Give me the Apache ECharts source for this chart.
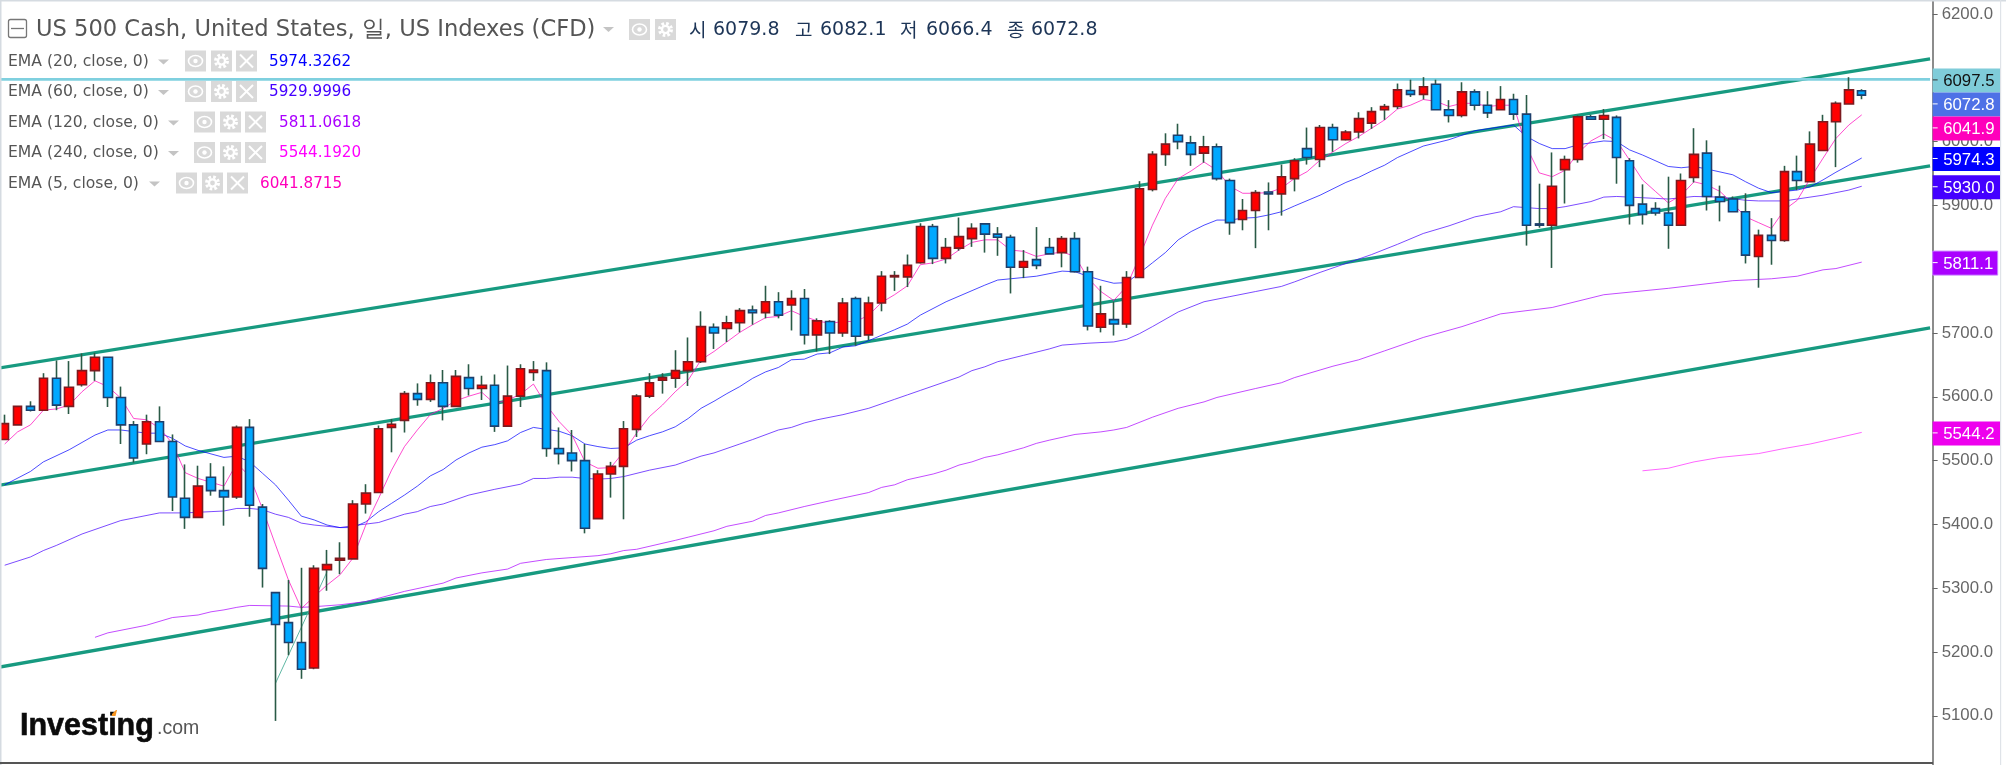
<!DOCTYPE html>
<html>
<head>
<meta charset="utf-8">
<style>html,body{margin:0;padding:0;background:#fff}#chart{width:2006px;height:765px}</style>
<script src="https://cdn.jsdelivr.net/npm/echarts@6/dist/echarts.min.js"></script>
</head>
<body>
<div id="chart"></div>
<script>
// Daily OHLC of the US 500 cash index
const opens = [5533,5556,5585,5579,5629,5585,5619,5641,5662,5599,5556,5526,5561,5530,5441,5411,5474,5453,5443,5552,5427,5293,5246,5215,5175,5329,5344,5346,5432,5450,5552,5563,5605,5596,5622,5585,5630,5613,5618,5554,5601,5638,5641,5519,5512,5500,5409,5479,5491,5549,5601,5626,5629,5641,5655,5709,5707,5716,5736,5732,5749,5744,5754,5697,5718,5700,5754,5697,5747,5788,5788,5810,5867,5817,5833,5848,5871,5855,5850,5803,5815,5834,5826,5848,5796,5709,5721,5714,5787,5925,5980,6010,5998,5982,5992,5939,5878,5892,5921,5918,5942,5989,5972,6022,6003,6015,6029,6050,6055,6080,6074,6090,6050,6041,6078,6057,6050,6066,6043,5871,5869,5956,5972,6039,6035,6038,5970,5902,5895,5888,5869,5944,5982,5913,5910,5890,5820,5853,5845,5953,5937,5986,6031,6059,6079.8];
const highs = [5572,5585,5593,5637,5657,5656,5668,5669,5662,5616,5562,5572,5585,5541,5494,5492,5496,5491,5555,5565,5432,5293,5313,5332,5336,5360,5372,5438,5463,5555,5565,5609,5621,5635,5642,5642,5651,5633,5635,5649,5651,5656,5654,5552,5548,5526,5485,5498,5562,5604,5637,5637,5673,5693,5734,5715,5727,5739,5743,5774,5764,5767,5769,5723,5720,5755,5757,5757,5797,5797,5823,5872,5871,5849,5881,5872,5871,5866,5854,5830,5866,5849,5852,5858,5804,5774,5749,5797,5938,5985,6013,6028,6009,6009,5997,5942,5910,5924,5936,5964,5974,6022,6026,6028,6018,6046,6054,6059,6091,6097,6101,6097,6065,6093,6082,6079,6087,6075,6073,5934,5983,5978,6041,6042,6051,6041,5974,5933,5905,5945,5950,6021,6002,5931,5914,5919,5862,5880,5962,5978,6016,6042,6063,6101,6082.1];
const lows = [5533,5556,5577,5579,5579,5573,5616,5625,5584,5526,5497,5510,5530,5421,5393,5411,5445,5398,5440,5412,5301,5092,5195,5158,5173,5296,5322,5346,5417,5450,5513,5544,5586,5592,5563,5585,5602,5595,5545,5554,5584,5625,5506,5494,5483,5386,5409,5442,5408,5537,5598,5605,5614,5617,5653,5675,5686,5701,5713,5723,5723,5704,5682,5671,5667,5694,5680,5689,5734,5766,5772,5809,5808,5809,5829,5835,5826,5821,5762,5786,5800,5824,5803,5795,5704,5701,5696,5708,5787,5922,5962,5988,5962,5967,5939,5854,5861,5833,5861,5884,5922,5964,5960,5984,6002,6005,6020,6034,6051,6070,6066,6050,6030,6038,6049,6037,6050,6034,5837,5865,5802,5903,5967,6035,6004,5934,5870,5870,5884,5832,5869,5936,5892,5875,5890,5809,5771,5807,5843,5924,5937,5986,5960,6059,6066.4];
const closes = [5558,5585,5579,5629,5587,5615,5641,5662,5599,5556,5504,5561,5530,5443,5411,5460,5453,5443,5552,5430,5331,5243,5215,5173,5331,5337,5347,5432,5449,5550,5557,5605,5596,5622,5585,5632,5613,5618,5554,5601,5644,5642,5519,5511,5500,5394,5479,5491,5550,5601,5622,5630,5641,5655,5710,5700,5716,5735,5732,5749,5728,5754,5697,5719,5700,5747,5695,5747,5789,5790,5806,5867,5817,5834,5851,5864,5855,5850,5803,5812,5806,5824,5848,5796,5711,5730,5714,5787,5926,5980,5996,6000,5980,5992,5942,5873,5892,5920,5918,5945,5970,5975,6022,6003,6015,6036,6047,6055,6081,6074,6086,6050,6041,6078,6057,6045,6066,6043,5869,5869,5930,5972,6039,6035,6041,5975,5900,5886,5888,5869,5939,5980,5914,5906,5890,5822,5853,5845,5953,5939,5996,6031,6060,6081,6072.8];

// Moving averages as [session index, value]
const ema5Values = [5526,5545,5556,5579,5581,5587,5608,5625,5616,5598,5566,5564,5551,5527,5481,5472,5466,5460,5496,5475,5424,5368,5313,5268,5287,5305,5321,5347,5399,5441,5485,5522,5548,5572,5582,5594,5601,5607,5589,5595,5604,5620,5587,5561,5540,5498,5488,5489,5514,5543,5569,5587,5608,5626,5658,5671,5686,5701,5713,5724,5726,5735,5726,5719,5715,5718,5718,5728,5748,5760,5774,5807,5810,5816,5830,5842,5846,5846,5830,5828,5820,5824,5827,5820,5786,5765,5751,5773,5820,5869,5911,5942,5954,5968,5955,5930,5919,5919,5920,5927,5942,5953,5971,5984,5997,6008,6021,6034,6051,6057,6066,6063,6055,6060,6060,6055,6057,6057,5992,5951,5945,5955,5982,6001,6012,6001,5971,5940,5922,5904,5916,5937,5932,5922,5903,5882,5873,5864,5893,5908,5942,5974,6005,6026,6041.9];
const ema20Points = [[0,5462],[2,5483],[3,5498],[5,5517],[7,5540],[8,5548],[9,5548],[11,5543],[12,5543],[13,5535],[14,5523],[15,5516],[17,5505],[18,5507],[19,5498],[20,5480],[21,5462],[22,5438],[23,5413],[24,5407],[25,5399],[26,5395],[27,5395],[28,5404],[29,5420],[30,5433],[31,5446],[32,5460],[33,5476],[34,5486],[35,5501],[36,5512],[37,5521],[38,5525],[39,5531],[40,5544],[41,5552],[42,5549],[43,5546],[44,5539],[45,5526],[46,5522],[47,5519],[48,5520],[49,5532],[50,5539],[51,5545],[52,5553],[53,5566],[54,5582],[55,5593],[56,5605],[57,5616],[58,5629],[59,5639],[60,5646],[61,5658],[62,5659],[63,5667],[64,5669],[65,5678],[66,5680],[67,5688],[69,5705],[70,5714],[71,5728],[73,5749],[76,5775],[77,5783],[78,5785],[80,5789],[82,5797],[83,5796],[84,5789],[85,5783],[86,5778],[87,5779],[88,5794],[89,5810],[90,5826],[91,5846],[92,5859],[93,5869],[94,5877],[95,5877],[96,5880],[97,5881],[98,5885],[99,5890],[100,5899],[102,5916],[103,5926],[104,5936],[105,5944],[106,5954],[107,5963],[108,5975],[110,5993],[112,6003],[114,6017],[117,6026],[118,6008],[119,5997],[120,5989],[121,5989],[122,5995],[124,6001],[125,6000],[126,5987],[127,5979],[129,5961],[130,5959],[131,5961],[132,5957],[134,5948],[135,5937],[136,5927],[137,5920],[138,5922],[139,5924],[140,5929],[141,5940],[142,5952],[143,5963],[144,5974.3]];
const ema60Points = [[0,5336],[2,5349],[3,5359],[4,5367],[6,5385],[9,5406],[10,5410],[12,5418],[14,5418],[16,5420],[17,5421],[18,5425],[19,5425],[20,5423],[21,5416],[22,5411],[23,5402],[24,5399],[26,5395],[27,5398],[29,5403],[31,5416],[32,5420],[33,5428],[34,5432],[35,5439],[36,5446],[38,5455],[40,5463],[41,5472],[42,5472],[43,5474],[44,5474],[45,5472],[46,5471],[47,5472],[48,5475],[50,5485],[52,5493],[53,5500],[54,5507],[55,5512],[57,5526],[58,5533],[60,5548],[61,5552],[62,5559],[63,5564],[65,5572],[67,5582],[69,5596],[70,5603],[71,5610],[73,5624],[74,5631],[75,5641],[76,5647],[77,5655],[79,5665],[81,5675],[82,5681],[84,5684],[86,5686],[87,5690],[88,5699],[89,5710],[91,5733],[93,5749],[95,5757],[97,5765],[99,5773],[100,5780],[102,5795],[104,5809],[106,5823],[108,5839],[110,5856],[112,5868],[114,5882],[116,5890],[117,5898],[119,5895],[120,5895],[121,5898],[123,5906],[124,5913],[125,5914],[126,5913],[128,5911],[129,5910],[130,5912],[131,5914],[133,5913],[135,5908],[136,5907],[138,5907],[139,5910],[141,5916],[143,5924],[144,5930]];
const ema120Points = [[7,5223],[8,5230],[11,5242],[13,5254],[15,5258],[16,5263],[17,5266],[18,5270],[19,5273],[22,5272],[23,5270],[24,5271],[26,5274],[28,5279],[31,5295],[34,5308],[35,5316],[37,5324],[39,5330],[40,5339],[42,5345],[44,5348],[46,5351],[47,5354],[48,5359],[49,5361],[52,5375],[53,5380],[55,5390],[56,5397],[58,5405],[59,5414],[60,5418],[62,5428],[64,5437],[67,5450],[68,5458],[69,5462],[70,5470],[72,5479],[73,5485],[74,5493],[75,5498],[76,5505],[77,5509],[79,5520],[80,5527],[81,5532],[83,5541],[85,5545],[86,5548],[87,5552],[89,5568],[91,5582],[93,5592],[94,5599],[97,5613],[99,5622],[100,5630],[102,5642],[103,5648],[105,5658],[107,5672],[110,5693],[113,5710],[116,5730],[120,5740],[124,5760],[129,5770],[134,5782],[137,5785],[139,5789],[141,5799],[142,5801],[144,5811.1]];
const ema240Points = [[127,5484],[129,5488],[131,5498],[133,5505],[136,5511],[138,5519],[140,5526],[142,5535],[144,5544.2]];

// Trend channel and annotation lines, [position on the session scale, price]
const channelUpper = [[-0.5,5645],[149.3,6129.5]];
const channelMiddle = [[-0.5,5461],[149.3,5962]];
const channelLower = [[-0.5,5176],[149.3,5708]];
const thinTrend = [[21,5151],[25,5326]];
const priceLine = [[-0.5,6097.5],[149.3,6097.5]];

// Price badges on the right-hand scale
const badgeValues = [6097.5,6072.8,6041.9,5974.3,5930.0,5811.1,5544.2];
const badgeFills = ['#7fccd9','#4e71e6','#ff00bb','#0000ff','#4400ff','#aa00ff','#ee00ee'];
const badgeInks = ['#111','#fff','#fff','#fff','#fff','#fff','#fff'];

// Header text
const chartTitle = 'US 500 Cash, United States, 일, US Indexes (CFD)';
const quoteLabels = ['시','고','저','종'];
const quoteValues = ['6079.8','6082.1','6066.4','6072.8'];
const emaLabels = ['EMA (20, close, 0)','EMA (60, close, 0)','EMA (120, close, 0)','EMA (240, close, 0)','EMA (5, close, 0)'];
const emaReadouts = ['5974.3262','5929.9996','5811.0618','5544.1920','6041.8715'];
const emaInks = ['#0000ff','#4400ff','#aa00ff','#ff00ff','#ff00bb'];

const sessionSlots = 150;
const categories = Array.from({length: sessionSlots}, (_, i) => String(i));
const wickData = opens.map((o, i) => [o, closes[i], lows[i], highs[i]]);
const bodyData = opens.map((o, i) => [o, closes[i], Math.min(o, closes[i]), Math.max(o, closes[i])]);

const FONT = '"DejaVu Sans"';
const ICON_BG = '#d9d9d9';
const elements = [];
const Z = 100;

function text(x, y, str, fill, font) {
  elements.push({type: 'text', x, y, z: Z, style: {text: str, fill, font, textVerticalAlign: 'middle'}});
}
function arrow(x, y) {
  elements.push({type: 'polygon', z: Z, shape: {points: [[x, y], [x + 11, y], [x + 5.5, y + 5]]}, style: {fill: '#c4c4c4'}});
}
function iconBox(x, y, size) {
  elements.push({type: 'rect', z: Z, shape: {x, y, width: size, height: size}, style: {fill: ICON_BG}});
}
function eye(x, y, s) {
  iconBox(x, y, s);
  const cx = x + s / 2, cy = y + s / 2;
  elements.push({type: 'ellipse', z: Z, shape: {cx, cy, rx: 7, ry: 5.5}, style: {fill: 'none', stroke: '#fff', lineWidth: 1.6}});
  elements.push({type: 'circle', z: Z, shape: {cx, cy, r: 2.2}, style: {fill: '#fff'}});
}
function gear(x, y, s) {
  iconBox(x, y, s);
  const cx = x + s / 2, cy = y + s / 2;
  elements.push({type: 'circle', z: Z, shape: {cx, cy, r: 6}, style: {fill: 'none', stroke: '#fff', lineWidth: 3, lineDash: [2.6, 2.1]}});
  elements.push({type: 'circle', z: Z, shape: {cx, cy, r: 3.6}, style: {fill: 'none', stroke: '#fff', lineWidth: 2.4}});
}
function cross(x, y, s) {
  iconBox(x, y, s);
  const a = 4;
  elements.push({type: 'line', z: Z, shape: {x1: x + a, y1: y + a, x2: x + s - a, y2: y + s - a}, style: {stroke: '#fff', lineWidth: 2}});
  elements.push({type: 'line', z: Z, shape: {x1: x + s - a, y1: y + a, x2: x + a, y2: y + s - a}, style: {stroke: '#fff', lineWidth: 2}});
}

// Title row
elements.push({type: 'rect', z: Z, shape: {x: 8.5, y: 19.5, width: 18, height: 18, r: 2}, style: {fill: 'none', stroke: '#777', lineWidth: 1.3}});
elements.push({type: 'line', z: Z, shape: {x1: 11, y1: 28.5, x2: 24, y2: 28.5}, style: {stroke: '#777', lineWidth: 1.3}});
text(36, 30, chartTitle, '#555', '22.6px ' + FONT);
arrow(603, 27);
eye(629, 19, 21);
gear(655, 19, 21);
const quoteX = [[689, 713], [795, 820], [900, 926], [1007, 1031]];
quoteLabels.forEach((q, i) => {
  text(quoteX[i][0], 30, q, '#1d3557', '19px "Noto Sans CJK KR"');
  text(quoteX[i][1], 30, quoteValues[i], '#1d3557', '19px ' + FONT);
});

// Indicator rows
const rowY = [61.5, 92, 122.5, 153, 183.5];
const rowArrowX = [158, 158, 168, 168, 149];
const rowIconX = [185, 185, 194, 194, 176];
const rowValueX = [269, 269, 279, 279, 260];
emaLabels.forEach((label, i) => {
  const y = rowY[i];
  text(8, y, label, '#555', '15.6px ' + FONT);
  arrow(rowArrowX[i], y - 2);
  eye(rowIconX[i], y - 11, 21);
  gear(rowIconX[i] + 26, y - 11, 21);
  cross(rowIconX[i] + 51, y - 11, 21);
  text(rowValueX[i], y + 0.5, emaReadouts[i], emaInks[i], '15.2px ' + FONT);
});

// Wordmark
elements.push({type: 'text', x: 20, y: 727, z: Z, style: {text: 'Investing', fill: '#0b0b0b', stroke: '#0b0b0b', lineWidth: 0.6, font: 'bold 30.5px "Liberation Sans"', textVerticalAlign: 'middle'}});
elements.push({type: 'text', x: 157, y: 729, z: Z, style: {text: '.com', fill: '#555', font: '19.5px "Liberation Sans"', textVerticalAlign: 'middle'}});
elements.push({type: 'polygon', z: Z, shape: {points: [[112, 714], [116, 710], [117, 710], [115.5, 716], [112, 716]]}, style: {fill: '#f7941d'}});

// Outer frame
elements.push({type: 'rect', z: Z, shape: {x: 0, y: 0, width: 1.5, height: 765}, style: {fill: '#d5dbe1'}});
elements.push({type: 'rect', z: Z, shape: {x: 0, y: 0, width: 2006, height: 1.5}, style: {fill: '#d5dbe1'}});
elements.push({type: 'rect', z: Z, shape: {x: 2000, y: 0, width: 1.2, height: 765}, style: {fill: '#dfe3e8'}});
elements.push({type: 'rect', z: Z, shape: {x: 0, y: 762, width: 1933, height: 2}, style: {fill: '#555'}});

function overlayLine(name, points, color, width, z, opacity) {
  return {
    name, type: 'line', xAxisIndex: 1, yAxisIndex: 0, data: points, z,
    symbol: 'none', silent: true, animation: false,
    lineStyle: {color, width, opacity: opacity === undefined ? 1 : opacity}
  };
}

// Badges that would overlap are pushed down one at a time, keeping the price order
let placedY = [];
function renderBadge(params, api) {
  const raw = api.coord([0, api.value(1)])[1];
  const i = params.dataIndex;
  if (i === 0) placedY = [];
  const y = i > 0 ? Math.max(raw, placedY[i - 1] + 24) : raw;
  placedY[i] = y;
  const left = params.coordSys.x + params.coordSys.width;
  const w = i === 5 ? 65 : 67.5;
  return {
    type: 'group',
    children: [
      {type: 'rect', shape: {x: left, y: y - 11, width: w, height: 24}, style: {fill: badgeFills[i], stroke: i === 5 ? '#c77dff' : null, lineWidth: 1}},
      {type: 'line', shape: {x1: left, y1: y + 0.5, x2: left + 5, y2: y + 0.5}, style: {stroke: i === 0 ? '#333' : '#fff', lineWidth: 1}},
      {type: 'text', x: left + 10.5, y: y + 2, style: {text: api.value(1).toFixed(1), fill: badgeInks[i], font: '16.8px "Liberation Sans"', textVerticalAlign: 'middle'}}
    ]
  };
}

const chart = echarts.init(document.getElementById('chart'), null, {renderer: 'canvas'});
chart.setOption({
  animation: false,
  backgroundColor: '#fff',
  grid: {left: -1.75, top: -49.8, width: 1934.4, height: 829.4, containLabel: false, outerBoundsMode: 'none'},
  xAxis: [
    {type: 'category', data: categories, boundaryGap: true, show: false},
    {type: 'value', min: -0.5, max: 149.5, show: false, splitLine: {show: false}}
  ],
  yAxis: {
    type: 'value', position: 'right', min: 5000, max: 6300, interval: 100,
    splitLine: {show: false},
    axisLine: {show: true, onZero: false, lineStyle: {color: '#666', width: 1.5}},
    axisTick: {show: true, length: 5, lineStyle: {color: '#666'}},
    axisLabel: {margin: 9, padding: [3, 0, 0, 0], color: '#666', fontSize: 16.8, fontFamily: '"Liberation Sans"', formatter: v => v.toFixed(1)}
  },
  graphic: {elements},
  series: [
    overlayLine('Channel upper', channelUpper, '#179a80', 3.3, 2),
    overlayLine('Channel middle', channelMiddle, '#179a80', 3.3, 2),
    overlayLine('Channel lower', channelLower, '#179a80', 3.3, 2),
    overlayLine('Trend', thinTrend, '#5fb8a4', 1, 2),
    overlayLine('Last price line', priceLine, '#7fd0df', 2.6, 2),
    overlayLine('EMA 240', ema240Points, '#ff00ff', 1, 3, 0.6),
    overlayLine('EMA 120', ema120Points, '#aa00ff', 1, 3, 0.7),
    overlayLine('EMA 60', ema60Points, '#4400ff', 1, 3, 0.7),
    overlayLine('EMA 20', ema20Points, '#0000ff', 1, 3, 0.7),
    overlayLine('EMA 5', ema5Values.map((v, i) => [i, v]), '#ff00bb', 1, 3, 0.7),
    {
      name: 'Wicks', type: 'candlestick', xAxisIndex: 0, data: wickData, barWidth: 1, z: 5,
      silent: true, animation: false,
      itemStyle: {color: '#2a5a46', color0: '#2a5a46', borderColor: '#2a5a46', borderColor0: '#2a5a46', borderWidth: 1.6}
    },
    {
      name: 'Bodies', type: 'candlestick', xAxisIndex: 0, data: bodyData, barWidth: 9, z: 6,
      silent: true, animation: false,
      itemStyle: {color: '#ff0000', color0: '#00a8ff', borderColor: '#7c1a1f', borderColor0: '#1e3f6b', borderWidth: 1.6}
    },
    {
      name: 'Price badges', type: 'custom', xAxisIndex: 1, z: 20, clip: false, silent: true, animation: false,
      data: badgeValues.map(v => [0, v]), encode: {x: 0, y: 1}, renderItem: renderBadge
    }
  ]
});
</script>
</body>
</html>
